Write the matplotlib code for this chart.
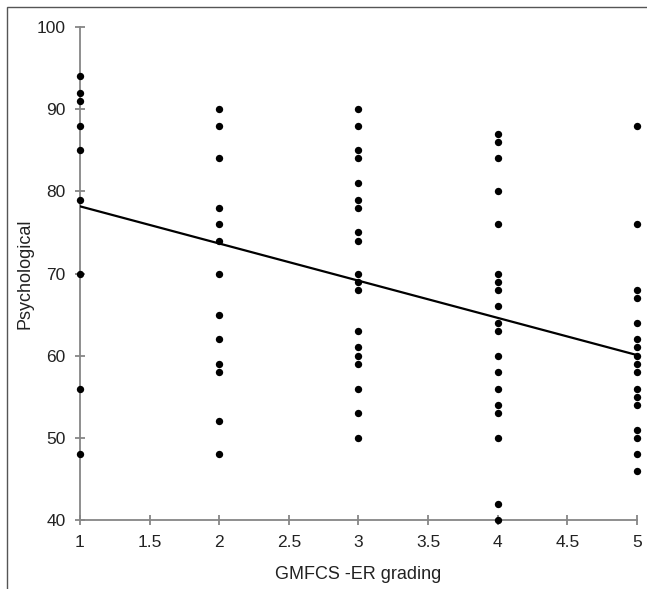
#!/usr/bin/env python3
"""
Scatter plot of psychological score against GMFCS-ER grading with a trend line.
"""

import matplotlib
matplotlib.use("Agg")
import matplotlib.pyplot as plt
from matplotlib.patches import Rectangle
import numpy as np

plt.rcParams['font.family'] = ['Liberation Sans', 'DejaVu Sans']

# Scores per grading level
grade_1 = [94, 92, 91, 88, 85, 79, 70, 56, 48]
grade_2 = [90, 88, 84, 78, 76, 74, 70, 65, 62, 59, 58, 52, 48]
grade_3 = [90, 88, 85, 84, 81, 79, 78, 75, 74, 70, 69, 68, 63, 61, 60, 59, 56, 53, 50]
grade_4 = [87, 86, 84, 80, 76, 70, 69, 68, 66, 64, 63, 60, 58, 56, 54, 53, 50, 42, 40]
grade_5 = [88, 76, 68, 67, 64, 62, 61, 60, 59, 58, 56, 55, 54, 51, 50, 48, 46]
grades = [1, 2, 3, 4, 5]

# Linear trend line (intercept, slope)
trend_intercept = 82.7
trend_slope = -4.525

x_ticks = [1, 1.5, 2, 2.5, 3, 3.5, 4, 4.5, 5]
x_tick_labels = ['1', '1.5', '2', '2.5', '3', '3.5', '4', '4.5', '5']
y_ticks = [40, 50, 60, 70, 80, 90, 100]


def main():
    fig = plt.figure(figsize=(6.47, 5.89), dpi=100)
    ax = fig.add_axes([0.1236, 0.1171, 0.8609, 0.8371])

    # Outer frame around the chart
    fig.patches.append(Rectangle((0.0108, -0.2), 1.5, 0.2 + 0.988,
                                 transform=fig.transFigure, fill=False,
                                 edgecolor='#555555', linewidth=1.0))

    for g, scores in zip(grades, [grade_1, grade_2, grade_3, grade_4, grade_5]):
        ax.scatter([g] * len(scores), scores, s=28, color='black',
                   zorder=3, clip_on=False, linewidths=0)

    xs = np.array([grades[0], grades[-1]])
    ax.plot(xs, trend_intercept + trend_slope * xs, color='black',
            linewidth=1.6, zorder=4)

    ax.set_xlim(1, 5)
    ax.set_ylim(40, 100)
    ax.set_xticks(x_ticks)
    ax.set_xticklabels(x_tick_labels)
    ax.set_yticks(y_ticks)

    gray = '#868686'
    for side in ['top', 'right']:
        ax.spines[side].set_visible(False)
    for side in ['left', 'bottom']:
        ax.spines[side].set_color(gray)
        ax.spines[side].set_linewidth(1.3)
    ax.tick_params(direction='inout', length=7, width=1.3, color=gray,
                   labelsize=12.5, labelcolor='#222222')
    ax.tick_params(axis='x', pad=7)
    ax.tick_params(axis='y', pad=7)

    ax.set_xlabel('GMFCS -ER grading', fontsize=13, color='#222222', labelpad=12)
    ax.set_ylabel('Psychological', fontsize=13, color='#222222', labelpad=2)

    fig.savefig('out.png', dpi=100)


if __name__ == "__main__":
    main()
